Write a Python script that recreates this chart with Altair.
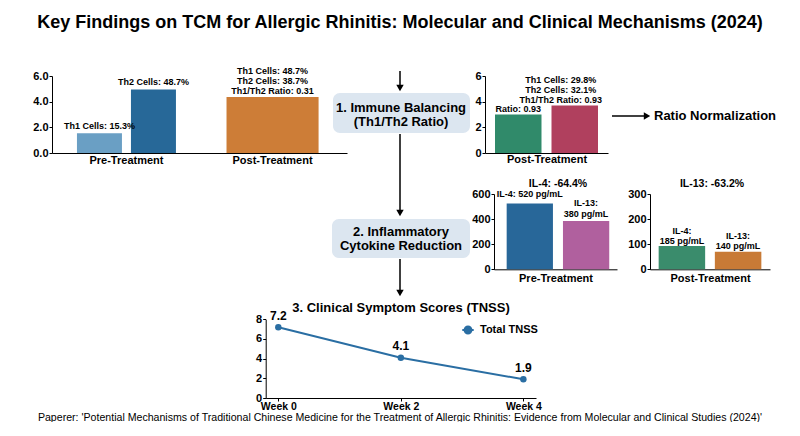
import altair as alt
import pandas as pd

# ---------------- text ----------------
title_text = "Key Findings on TCM for Allergic Rhinitis: Molecular and Clinical Mechanisms (2024)"
footer_text = ("Paperer: 'Potential Mechanisms of Traditional Chinese Medicine for the Treatment of "
               "Allergic Rhinitis: Evidence from Molecular and Clinical Studies (2024)'")
step1_lines = ["1. Immune Balancing", "(Th1/Th2 Ratio)"]
step2_lines = ["2. Inflammatory", "Cytokine Reduction"]
ratio_note = "Ratio Normalization"

stages = ["Pre-Treatment", "Post-Treatment"]

# ---------------- panel A : Th1 / Th2 ----------------
a_pre_cells = ["Th1", "Th2"]
a_pre_values = [1.53, 4.95]
a_pre_labels = ["Th1 Cells: 15.3%", "Th2 Cells: 48.7%"]
a_pre_colors = ["#6a9fc4", "#276898"]
a_post_values = [4.37]
a_post_labels = ["Th1 Cells: 48.7%\nTh2 Cells: 38.7%\nTh1/Th2 Ratio: 0.31"]
a_post_colors = ["#cd7d37"]
a_ticks = [0, 2, 4, 6]

# ---------------- panel B : post-treatment ratio ----------------
b_cells = ["Th1", "Th2"]
b_values = [3.0, 3.7]
b_labels = ["Ratio: 0.93", "Th1 Cells: 29.8%\nTh2 Cells: 32.1%\nTh1/Th2 Ratio: 0.93"]
b_colors = ["#308a6a", "#b0405e"]
b_stage = "Post-Treatment"
b_ticks = [0, 2, 4, 6]

# ---------------- panel C : cytokines pre ----------------
c_title = "IL-4: -64.4%"
c_cyto = ["IL-4", "IL-13"]
c_values = [525, 385]
c_labels = ["IL-4: 520 pg/mL", "IL-13:\n380 pg/mL"]
c_colors = ["#286799", "#b0609e"]
c_stage = "Pre-Treatment"
c_ticks = [0, 200, 400, 600]

# ---------------- panel D : cytokines post ----------------
d_title = "IL-13: -63.2%"
d_cyto = ["IL-4", "IL-13"]
d_values = [92.5, 70]
d_labels = ["IL-4:\n185 pg/mL", "IL-13:\n140 pg/mL"]
d_colors = ["#3a8c6c", "#c87a36"]
d_stage = "Post-Treatment"
d_ticks = [0, 100, 200, 300]

# ---------------- panel E : TNSS ----------------
e_title = "3. Clinical Symptom Scores (TNSS)"
weeks = ["Week 0", "Week 2", "Week 4"]
tnss = [7.2, 4.1, 1.9]
tnss_labels = ["7.2", "4.1", "1.9"]
series_name = "Total TNSS"
e_ticks = [0, 2, 4, 6, 8]
line_color = "#2a6ea3"

# ---------------- helpers ----------------
W, H = 780, 414
FONT = "Liberation Sans"
one = pd.DataFrame({"k": [0]})


def y_axis(ticks, left, fmt):
    return alt.Axis(orient="left", offset=-left, values=ticks, format=fmt, title=None, grid=False,
                    labelFontSize=11, labelFontWeight="bold", labelColor="black", labelPadding=1,
                    domainColor="black", domainWidth=1, tickColor="black", tickSize=3)


def x_axis_labels(bottom, pad=1, ticks=False, size=11):
    return alt.Axis(orient="bottom", offset=bottom - H, title=None, labelAngle=0, grid=False,
                    ticks=ticks, tickSize=3 if ticks else 0, tickColor="black",
                    labelPadding=pad, labelFontSize=size, labelFontWeight="bold", labelColor="black",
                    domainColor="black", domainWidth=1)


def x_axis_title(bottom, title, pad=0):
    return alt.Axis(orient="bottom", offset=bottom - H, title=title, labels=False, ticks=False,
                    tickSize=0, grid=False, titleFontSize=11, titleFontWeight="bold",
                    titleColor="black", titlePadding=pad, titleBaseline="top",
                    domainColor="black", domainWidth=1)


def labels_layer(df, i, x, y, dy, lh, xo=None, dx=0):
    # multi-line labels grow downward from the anchor, so lift them by the extra lines
    n_extra = str(df["label"].iloc[i]).count("\n")
    enc = dict(x=x, y=y, text="label:N")
    if xo is not None:
        enc["xOffset"] = xo
    return alt.Chart(df.iloc[[i]]).mark_text(
        baseline="bottom", dy=dy - n_extra * lh, dx=dx, fontSize=9, fontWeight="bold",
        color="black", lineBreak="\n", lineHeight=lh).encode(**enc)


def bar_panel(df, x, y, dys, lhs, dxs=None):
    bars = alt.Chart(df).mark_bar().encode(x=x, y=y, color=alt.Color("color:N", scale=None))
    layers = [bars]
    for i in range(len(df)):
        layers.append(labels_layer(df, i, x, y, dys[i], lhs[i], dx=(dxs[i] if dxs else 0)))
    return alt.layer(*layers)


def txt(s, x, y, size, weight="bold", align="center", baseline="middle"):
    return alt.Chart(one).mark_text(text=s, fontSize=size, fontWeight=weight, align=align,
                                    baseline=baseline, color="black").encode(
        x=alt.value(x), y=alt.value(y))


def vrule(x, y1, y2):
    return alt.Chart(one).mark_rule(color="black", strokeWidth=1.5).encode(
        x=alt.value(x), y=alt.value(y1), y2=alt.value(y2))


def hrule(x1, x2, y):
    return alt.Chart(one).mark_rule(color="black", strokeWidth=1.5).encode(
        x=alt.value(x1), x2=alt.value(x2), y=alt.value(y))


def head(x, y, shape):
    return alt.Chart(one).mark_point(shape=shape, filled=True, size=55, color="black",
                                     opacity=1).encode(x=alt.value(x), y=alt.value(y))


def box(x1, x2, y1, y2):
    return alt.Chart(one).mark_rect(cornerRadius=7, color="#dce6f0").encode(
        x=alt.value(x1), x2=alt.value(x2), y=alt.value(y1), y2=alt.value(y2))


# ---------------- panel A ----------------
dfa_pre = pd.DataFrame({"stage": [stages[0]] * 2, "cell": a_pre_cells, "value": a_pre_values,
                        "label": a_pre_labels, "color": a_pre_colors})
dfa_post = pd.DataFrame({"stage": [stages[1]], "value": a_post_values,
                         "label": a_post_labels, "color": a_post_colors})
ax = alt.X("stage:N", scale=alt.Scale(domain=stages, range=[44, 339], paddingInner=0.3224,
                                      paddingOuter=0.1708), axis=x_axis_labels(145, pad=1))
ay = alt.Y("value:Q", scale=alt.Scale(domain=[0, 6], range=[145, 68], nice=False, zero=True),
           axis=y_axis(a_ticks, 44, ".1f"))
axo = alt.XOffset("cell:N", scale=alt.Scale(domain=a_pre_cells, paddingInner=0.1667, paddingOuter=0))
panelA = alt.layer(
    alt.Chart(dfa_pre).mark_bar().encode(x=ax, xOffset=axo, y=ay, color=alt.Color("color:N", scale=None)),
    alt.Chart(dfa_post).mark_bar(width=alt.RelativeBandSize(0.93)).encode(
        x=ax, y=ay, color=alt.Color("color:N", scale=None)),
    labels_layer(dfa_pre, 0, ax, ay, -2, 10, xo=axo),
    labels_layer(dfa_pre, 1, ax, ay, -2.5, 10, xo=axo),
    labels_layer(dfa_post, 0, ax, ay, -1, 10),
)

# ---------------- panel B ----------------
dfb = pd.DataFrame({"cell": b_cells, "value": b_values, "label": b_labels, "color": b_colors})
bx = alt.X("cell:N", scale=alt.Scale(domain=b_cells, range=[477, 600], paddingInner=0.177,
                                     paddingOuter=0.177), axis=x_axis_title(145, b_stage, 0))
by = alt.Y("value:Q", scale=alt.Scale(domain=[0, 6], range=[145, 68], nice=False),
           axis=y_axis(b_ticks, 477, "d"))
panelB = bar_panel(dfb, bx, by, [-1, -1], [10, 10], dxs=[0, -14])

# ---------------- panel C ----------------
dfc = pd.DataFrame({"cyto": c_cyto, "value": c_values, "label": c_labels, "color": c_colors})
cx = alt.X("cyto:N", scale=alt.Scale(domain=c_cyto, range=[486, 609], paddingInner=0.178,
                                     paddingOuter=0.1815, align=0.62),
           axis=x_axis_title(261.3, c_stage, 3.5))
cy = alt.Y("value:Q", scale=alt.Scale(domain=[0, 600], range=[261.3, 186], nice=False),
           axis=y_axis(c_ticks, 486, "d"))
panelC = bar_panel(dfc, cx, cy, [-4, -1.5], [11, 11])

# ---------------- panel D ----------------
dfd = pd.DataFrame({"cyto": d_cyto, "value": d_values, "label": d_labels, "color": d_colors})
dx_ = alt.X("cyto:N", scale=alt.Scale(domain=d_cyto, range=[642, 762], paddingInner=0.1726,
                                      paddingOuter=0.154), axis=x_axis_title(261.3, d_stage, 3.5))
dy_ = alt.Y("value:Q", scale=alt.Scale(domain=[0, 300], range=[261.3, 186], nice=False),
            axis=y_axis(d_ticks, 642, "d"))
panelD = bar_panel(dfd, dx_, dy_, [0, -0.5], [10, 10])

# ---------------- panel E ----------------
dfe = pd.DataFrame({"week": weeks, "value": tnss, "label": tnss_labels, "series": [series_name] * 3})
ex = alt.X("week:N", sort=weeks, scale=alt.Scale(type="point", domain=weeks, range=[257.7, 528],
                                                 padding=0.103),
           axis=x_axis_labels(390, pad=0, ticks=True, size=10.5))
ey = alt.Y("value:Q", scale=alt.Scale(domain=[0, 8], range=[390, 311.3], nice=False),
           axis=y_axis(e_ticks, 257.7, "d"))
legend_path = "M-1,0L1,0M0.6,0A0.6,0.6,0,1,1,-0.6,0A0.6,0.6,0,1,1,0.6,0"
panelE = alt.layer(
    alt.Chart(dfe).mark_line(color=line_color, strokeWidth=2).encode(x=ex, y=ey),
    alt.Chart(dfe).mark_point(filled=True, size=42, opacity=1).encode(
        x=ex, y=ey,
        color=alt.Color("series:N", scale=alt.Scale(domain=[series_name], range=[line_color]),
                        legend=alt.Legend(orient="none", legendX=453, legendY=315, title=None,
                                          symbolType=legend_path, symbolSize=130,
                                          symbolStrokeWidth=2, symbolStrokeColor=line_color,
                                          labelFontSize=11, labelFontWeight="bold",
                                          labelColor="black", labelOffset=5, padding=0))),
    alt.Chart(dfe).mark_text(baseline="bottom", dy=-4.5, fontSize=12, fontWeight="bold",
                             color="black").encode(x=ex, y=ey, text="label:N"),
)

# ---------------- decorations (flow diagram) ----------------
deco = [
    txt(title_text, 392, 20, 18, baseline="alphabetic"),
    vrule(392, 63, 77), head(392, 80, "triangle-down"),
    box(325, 462, 85, 125),
    txt(step1_lines[0], 393, 100, 13), txt(step1_lines[1], 393, 114, 13),
    vrule(392, 126, 202), head(392, 205, "triangle-down"),
    box(324, 462, 211, 250),
    txt(step2_lines[0], 393, 224, 13), txt(step2_lines[1], 393, 238, 13),
    vrule(392, 251, 282), head(392, 285, "triangle-down"),
    hrule(604, 636, 108), head(639, 108, "triangle-right"),
    txt(ratio_note, 646, 108, 13, align="left"),
    txt(c_title, 550, 176, 10.5), txt(d_title, 704, 176, 10.5),
    txt(e_title, 393, 300, 13),
    txt(footer_text, 392, 409.5, 10.6, weight="normal"),
]

chart = alt.layer(panelA, panelB, panelC, panelD, panelE, *deco).resolve_scale(
    x="independent", y="independent", color="independent", xOffset="independent"
).properties(
    width=W, height=H, padding=0, autosize=alt.AutoSizeParams(type="none")
).configure(font=FONT).configure_view(stroke=None)

chart.save("out.html", embed_options={"renderer": "svg", "actions": False})
